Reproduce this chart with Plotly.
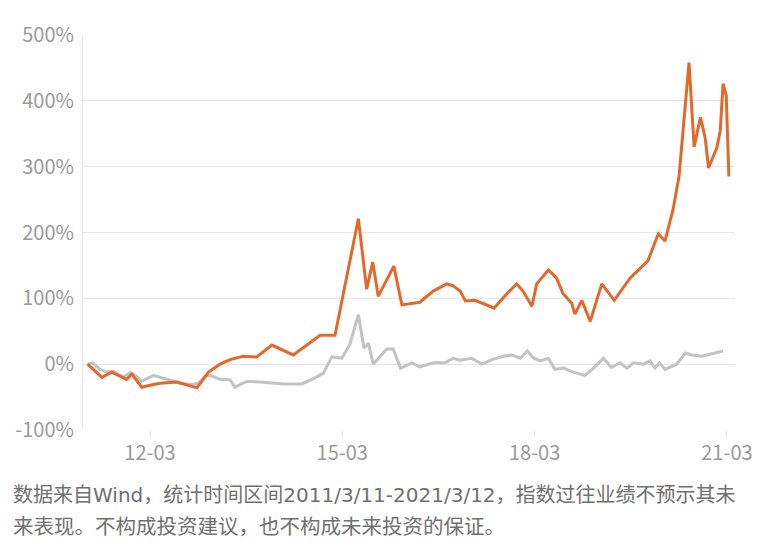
import plotly.graph_objects as go

# Orange series (index cumulative return, %)
orange_dates = [
    "2011-03-11", "2011-06-01", "2011-07-26", "2011-10-20", "2011-11-18", "2012-01-14",
    "2012-03-01", "2012-04-27", "2012-08-01", "2012-09-27", "2012-11-23", "2013-01-28",
    "2013-04-04", "2013-05-31", "2013-08-13", "2013-10-30", "2014-01-24", "2014-05-26",
    "2014-10-26", "2015-01-19", "2015-06-01", "2015-07-18", "2015-08-22", "2015-09-22",
    "2015-12-20", "2016-02-04", "2016-05-16", "2016-08-01", "2016-10-16", "2016-11-22",
    "2017-01-01", "2017-01-31", "2017-03-26", "2017-05-22", "2017-07-13", "2017-09-14",
    "2017-11-19", "2017-12-25", "2018-02-14", "2018-03-13", "2018-05-19", "2018-07-04",
    "2018-08-10", "2018-09-28", "2018-10-17", "2018-11-25", "2019-01-12", "2019-03-19",
    "2019-05-29", "2019-08-28", "2019-12-07", "2020-02-04", "2020-03-13", "2020-04-28",
    "2020-06-01", "2020-07-28", "2020-08-26", "2020-10-01", "2020-10-28", "2020-11-16",
    "2021-01-03", "2021-01-22", "2021-02-07", "2021-02-25", "2021-03-12",
]
orange_values = [
    0, -20, -12, -23, -15, -35,
    -32, -29, -27, -32, -36, -12,
    0, 7, 12, 11, 29, 14,
    44, 44, 221, 114, 155, 103,
    149, 90, 94, 111, 122, 119,
    111, 96, 97, 91, 85, 104,
    122, 111, 88, 122, 143, 131,
    107, 93, 76, 97, 65, 122,
    97, 131, 157, 198, 187, 235,
    285, 458, 330, 375, 344, 298,
    329, 355, 426, 408, 285,
]

# Gray series (benchmark cumulative return, %)
gray_dates = [
    "2011-03-11", "2011-04-10", "2011-05-20", "2011-06-28", "2011-08-05", "2011-10-01",
    "2011-11-08", "2011-12-07", "2012-01-14", "2012-03-20", "2012-06-04", "2012-08-19",
    "2012-10-25", "2012-12-02", "2013-01-10", "2013-02-07", "2013-04-04", "2013-06-01",
    "2013-06-28", "2013-09-04", "2013-11-19", "2014-03-30", "2014-07-13", "2014-09-10",
    "2014-11-13", "2015-01-01", "2015-02-27", "2015-04-13", "2015-06-01", "2015-07-03",
    "2015-07-28", "2015-08-25", "2015-11-10", "2015-12-16", "2016-01-28", "2016-04-01",
    "2016-05-16", "2016-08-01", "2016-10-07", "2016-11-22", "2017-01-01", "2017-03-07",
    "2017-05-04", "2017-07-01", "2017-09-04", "2017-10-22", "2017-12-10", "2018-01-19",
    "2018-02-24", "2018-04-01", "2018-05-19", "2018-06-25", "2018-08-12", "2018-10-07",
    "2018-12-13", "2019-01-31", "2019-03-28", "2019-05-13", "2019-07-01", "2019-08-10",
    "2019-09-15", "2019-11-10", "2019-12-19", "2020-01-16", "2020-02-10", "2020-03-13",
    "2020-05-19", "2020-07-07", "2020-08-13", "2020-10-10", "2020-11-25", "2021-02-07",
]
gray_values = [
    0, 2, -8, -12, -11, -20,
    -13, -17, -26, -17, -23, -29,
    -31, -29, -18, -17, -23, -24,
    -35, -26, -27, -30, -30, -23,
    -14, 11, 9, 30, 75, 24,
    32, 0, 23, 23, -6, 2,
    -4, 2, 2, 9, 6, 9,
    0, 7, 12, 14, 9, 20,
    9, 5, 9, -8, -6, -12,
    -17, -6, 9, -5, 2, -6,
    2, 0, 5, -6, 2, -8,
    0, 17, 14, 12, 15, 20,
]

tick_vals = ["2012-03-01", "2015-03-01", "2018-03-01", "2021-03-01"]
tick_text = ["12-03", "15-03", "18-03", "21-03"]
y_ticks = [-100, 0, 100, 200, 300, 400, 500]
y_text = ["-100%", "0%", "100%", "200%", "300%", "400%", "500%"]

FONT = "Noto Sans CJK SC"
LAT = "<span style='font-family:DejaVu Sans;font-size:20px'>{}</span>"
note_line1 = ("数据来自" + LAT.format("Wind") + "，统计时间区间"
              + LAT.format("2011/3/11-2021/3/12") + "，指数过往业绩不预示其未")
note_line2 = "来表现。不构成投资建议，也不构成未来投资的保证。"

fig = go.Figure()
fig.add_trace(go.Scatter(x=gray_dates, y=gray_values, mode="lines",
                         line=dict(color="#c3c3c6", width=3), showlegend=False))
fig.add_trace(go.Scatter(x=orange_dates, y=orange_values, mode="lines",
                         line=dict(color="#e2692c", width=3), showlegend=False))

# page body has an 8px margin, so the figure is offset by 8px
fig.update_layout(
    width=774, height=545,
    margin=dict(l=75, r=47, t=27, b=123, autoexpand=False),
    paper_bgcolor="white", plot_bgcolor="white",
    font=dict(family=FONT, color="#9a9a9a"),
    xaxis=dict(
        type="date", range=["2011-02-13", "2021-04-16"], automargin=False,
        tickvals=tick_vals, ticktext=tick_text,
        ticks="outside", ticklen=5, tickcolor="#dcdce4", tickwidth=1,
        showgrid=False, zeroline=False, showline=False,
        tickfont=dict(size=20, color="#9a9a9a", family=FONT),
    ),
    yaxis=dict(
        range=[-100, 500], tickvals=y_ticks, ticktext=y_text, automargin=False,
        showgrid=True, gridcolor="#e6e6ee", gridwidth=1,
        zeroline=False, showline=True, linecolor="#e6e6ee", linewidth=1,
        ticks="", ticklabelstandoff=4,
        tickfont=dict(size=20, color="#9a9a9a", family=FONT),
    ),
    annotations=[
        dict(text=note_line1, xref="paper", yref="paper", x=-72/652, y=-63/395,
             xanchor="left", yanchor="middle", showarrow=False,
             font=dict(size=20, color="#707070", family=FONT)),
        dict(text=note_line2, xref="paper", yref="paper", x=-72/652, y=-95/395,
             xanchor="left", yanchor="middle", showarrow=False,
             font=dict(size=20.5, color="#707070", family=FONT)),
    ],
)

fig.write_html("out.html")
